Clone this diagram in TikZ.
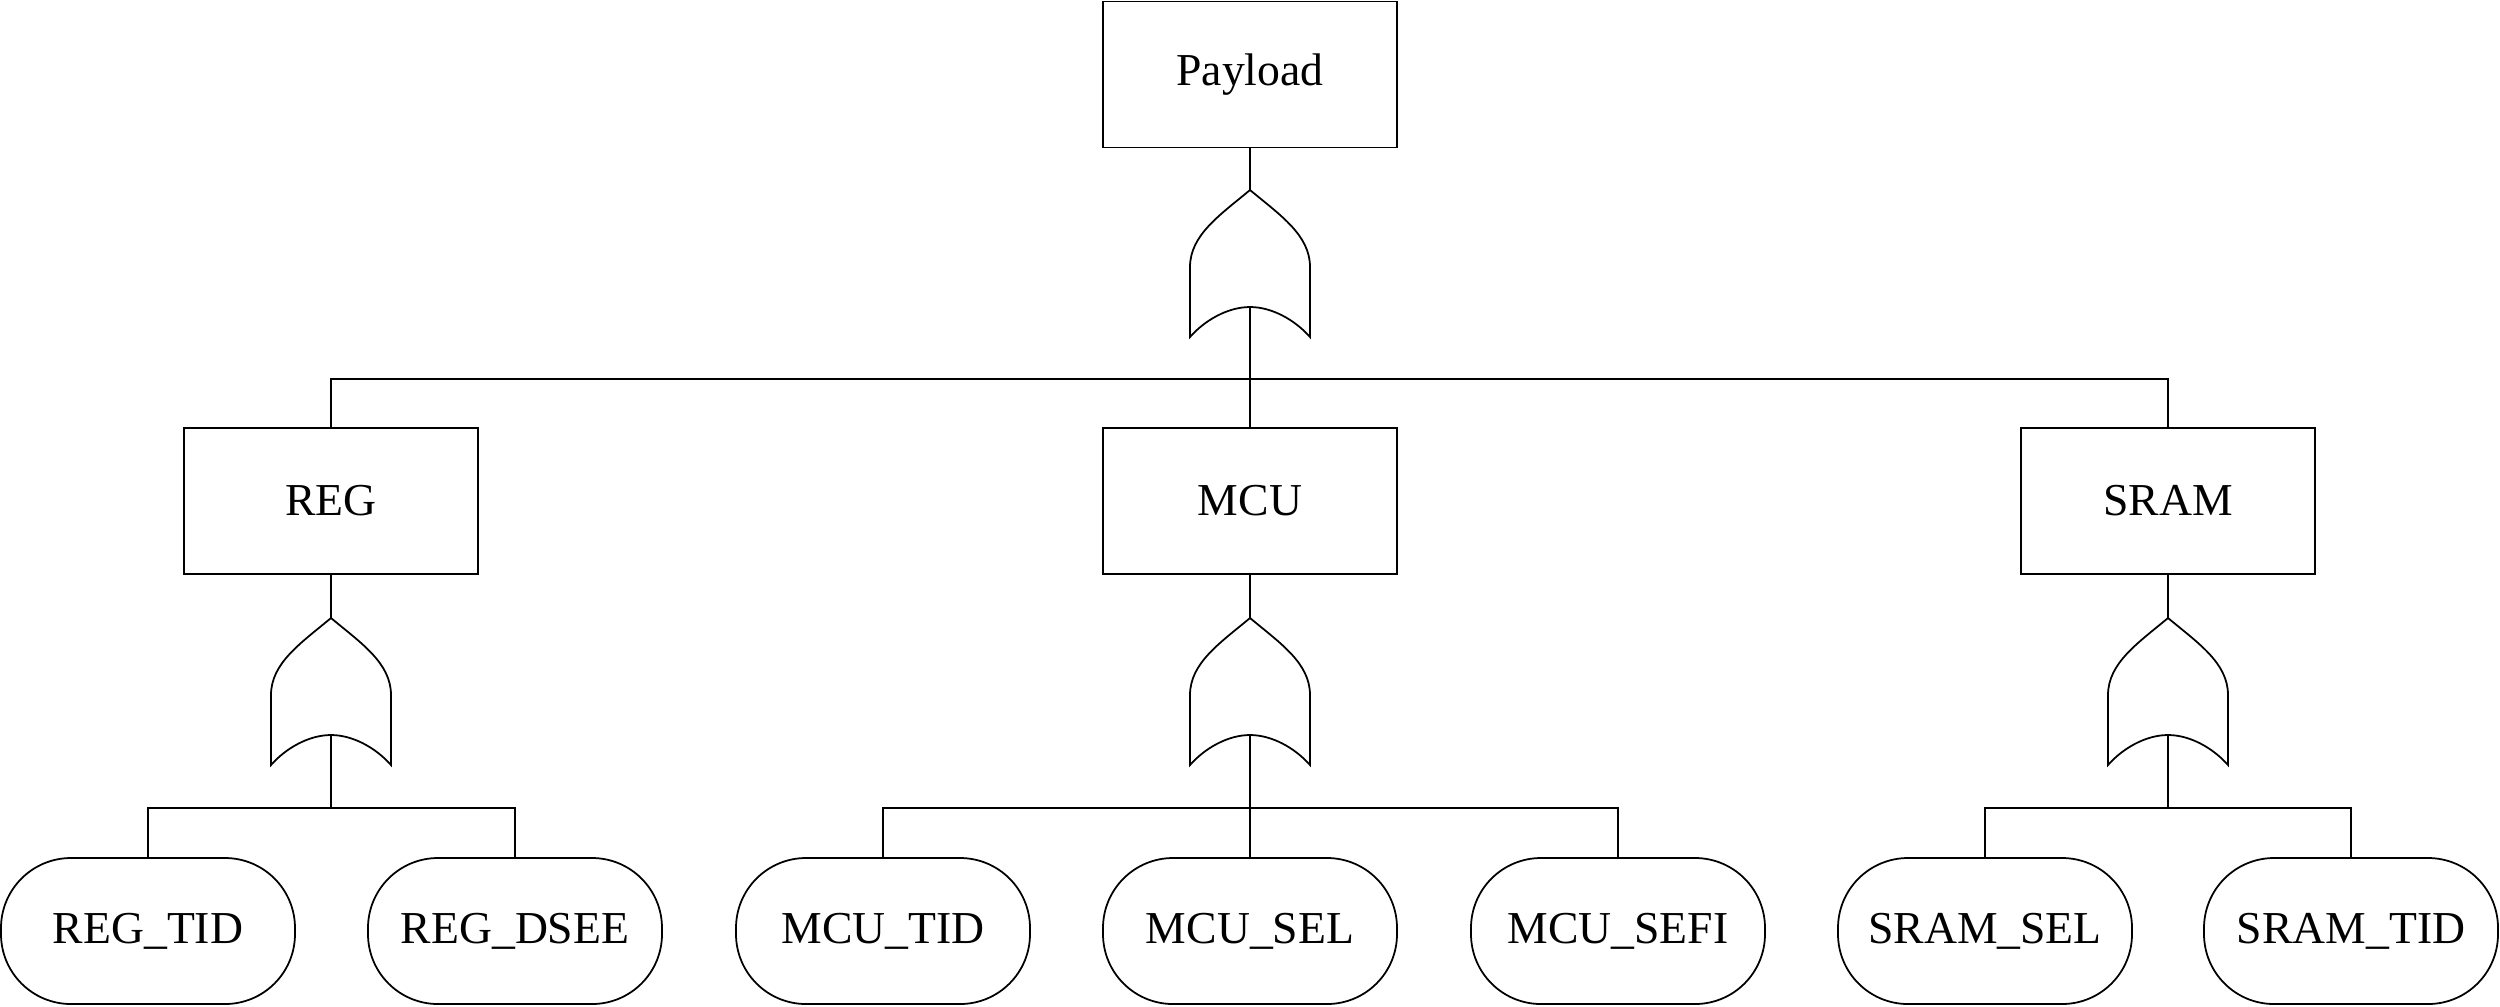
\documentclass[tikz,border=0pt]{standalone}
\usepackage{fontspec}
\setmainfont{Liberation Serif}
\usetikzlibrary{positioning}

\tikzset{
    every node/.style={font=\fontsize{13}{15}\selectfont},
    evbox/.style={draw, minimum width=2.94cm, minimum height=1.46cm},
    leaf/.style={draw, rounded corners=0.7cm, minimum width=2.94cm, minimum height=1.46cm},
}
% OR gate, apex at #2, named #1top / #1in
\newcommand{\orgate}[2]{
    \begin{scope}[shift={(#2)}]
        \draw (-0.6,-0.77) .. controls (-0.6,-0.45) and (-0.3,-0.25) .. (0,0)
            .. controls (0.3,-0.25) and (0.6,-0.45) .. (0.6,-0.77)
            -- (0.6,-1.47) .. controls (0.45,-1.3) and (0.22,-1.17) .. (0,-1.17)
            .. controls (-0.22,-1.17) and (-0.45,-1.3) .. (-0.6,-1.47) -- cycle;
        \coordinate (#1top) at (0,0);
        \coordinate (#1in) at (0,-1.17);
    \end{scope}
}

\begin{document}
\begin{tikzpicture}[line width=0.5pt]
            \useasboundingbox (0,0) rectangle (25,-10.06);

            \node[evbox] (payload) at (12.5,-0.745) {Payload};
            \orgate{gp}{12.5,-1.9}
            \draw (payload) -- (gptop);

            \foreach \n\x\txt in {reg/3.31/REG,mcu/12.5/MCU,sram/21.68/SRAM} {
                \node[evbox] (\n) at (\x,-5.01) {\txt};
                \orgate{g\n}{\x,-6.18}
                \draw (\n) -- (g\n top);
                \draw (gpin) -- ++(0,-0.72) -| (\n.north);
            }

            \foreach \n\p\x\txt in {regtid/reg/1.48/REG\_TID,regdsee/reg/5.15/REG\_DSEE,
                    mcutid/mcu/8.83/MCU\_TID,mcusel/mcu/12.5/MCU\_SEL,mcusefi/mcu/16.18/MCU\_SEFI,
                    sramsel/sram/19.85/SRAM\_SEL,sramtid/sram/23.51/SRAM\_TID} {
                \node[leaf] (\n) at (\x,-9.31) {\txt};
                \draw (g\p in) -- ++(0,-0.73) -| (\n.north);
            }
        \end{tikzpicture}
\end{document}
